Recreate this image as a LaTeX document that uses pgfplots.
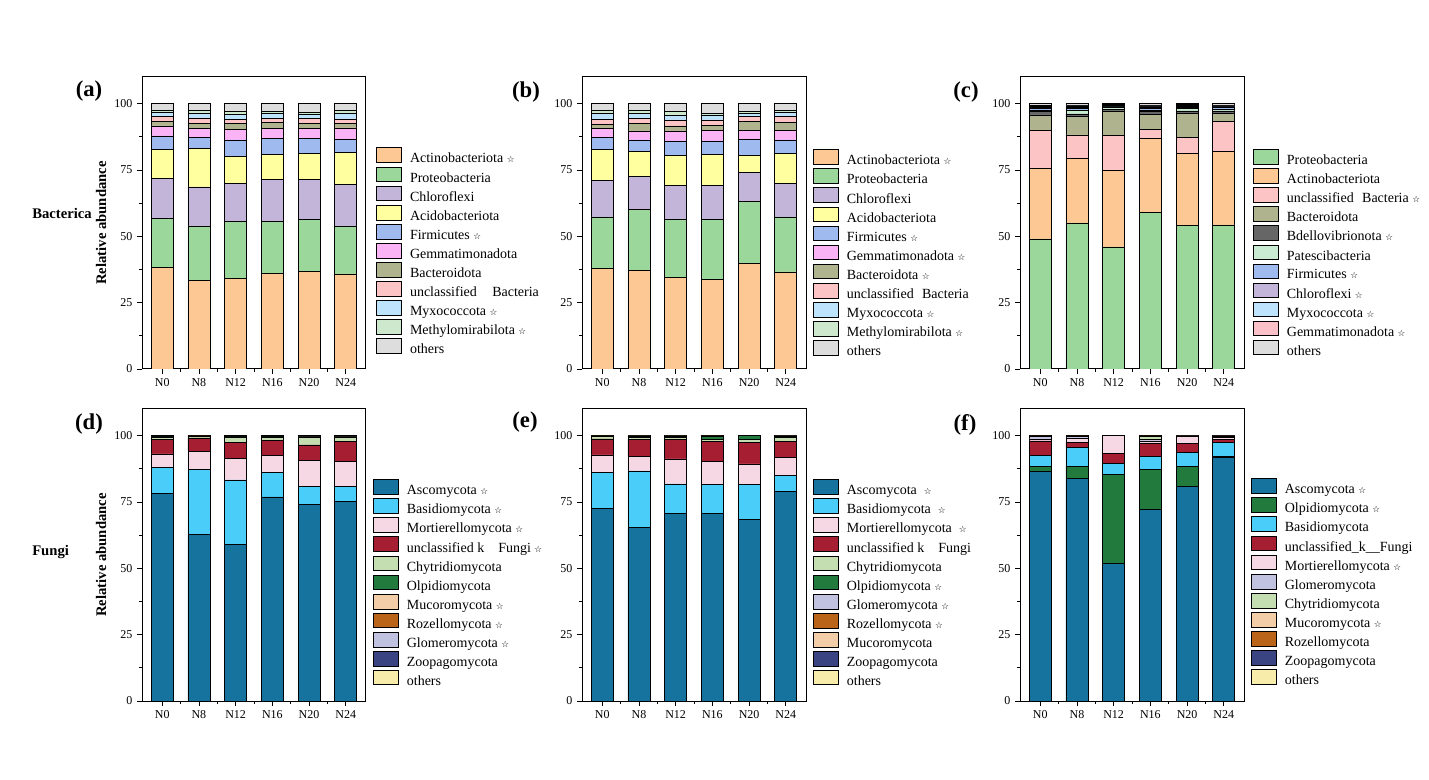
\documentclass[border=0pt]{standalone}
\usepackage{pgfplots}
\usepackage{pgfplotstable}
\pgfplotsset{compat=1.18}
\usepackage{fontspec}
\setmainfont{Liberation Serif}
\newfontfamily\symfont{DejaVu Sans}
\newcommand{\st}{\ {\symfont\fontsize{6.5}{6.5}\selectfont ☆}}

\definecolor{actino}{HTML}{FDC894}
\definecolor{proteo}{HTML}{9BD69B}
\definecolor{chloro}{HTML}{C3B4D9}
\definecolor{acido}{HTML}{FFFFA0}
\definecolor{firm}{HTML}{9EBAEE}
\definecolor{gemma}{HTML}{FAB4F5}
\definecolor{bactero}{HTML}{B0B48E}
\definecolor{uncb}{HTML}{FCC4C4}
\definecolor{myxo}{HTML}{BEE4FD}
\definecolor{methyl}{HTML}{CDE8CD}
\definecolor{othb}{HTML}{DDDDDD}
\definecolor{bdello}{HTML}{666666}
\definecolor{pates}{HTML}{C8EBD2}
\definecolor{gemmac}{HTML}{FCC0C8}
\definecolor{asco}{HTML}{15739E}
\definecolor{basid}{HTML}{4BCDFA}
\definecolor{mort}{HTML}{F6D8E4}
\definecolor{uncf}{HTML}{A51E32}
\definecolor{chytr}{HTML}{C4DEB2}
\definecolor{olpid}{HTML}{227A3C}
\definecolor{mucor}{HTML}{F2CDA8}
\definecolor{rozel}{HTML}{B96419}
\definecolor{glom}{HTML}{C1C1E0}
\definecolor{zoop}{HTML}{3A4482}
\definecolor{othf}{HTML}{F7ECAA}

\pgfplotstableread{
x s1 s2 s3 s4 s5 s6 s7 s8 s9 s10 s11
0 38.3 18.5 14.9 11.0 5.1 3.8 1.6 1.8 1.6 1.0 2.4
1 33.5 20.4 14.7 14.4 4.2 3.5 1.9 2.0 1.6 1.2 2.6
2 34.1 21.6 14.1 10.2 6.3 3.8 2.3 1.7 1.9 1.2 2.8
3 36.0 19.7 15.6 9.6 5.9 3.8 2.2 1.7 1.7 1.0 2.8
4 36.9 19.5 15.0 9.7 5.7 3.8 2.0 1.7 1.7 0.6 3.4
5 35.8 18.1 15.5 12.1 4.9 4.4 1.6 1.8 2.0 1.4 2.4
}\taba
\pgfplotstableread{
x s1 s2 s3 s4 s5 s6 s7 s8 s9 s10 s11
0 37.9 19.4 13.6 11.8 4.5 3.4 1.6 1.9 2.1 1.4 2.4
1 37.0 23.1 12.6 9.4 4.2 3.4 2.7 1.9 1.9 1.4 2.4
2 34.6 21.6 12.8 11.4 5.5 3.8 1.9 2.2 1.8 1.3 3.1
3 33.9 22.6 12.5 11.9 5.0 4.0 1.9 2.0 1.9 0.6 3.7
4 39.9 23.3 10.7 6.7 5.9 3.4 3.3 1.8 1.2 0.7 3.1
5 36.6 20.7 12.6 11.2 5.2 3.6 2.9 2.2 1.6 0.8 2.6
}\tabb
\pgfplotstableread{
x s1 s2 s3 s4 s5 s6 s7 s8 s9 s10 s11
0 49.0 26.7 14.1 5.9 1.2 0.5 0.7 0.5 0.4 0.4 0.6
1 55.0 24.2 9.0 6.9 1.0 1.3 0.8 0.4 0.5 0.4 0.5
2 46.0 28.7 13.2 9.3 0.5 0.8 0.2 0.3 0.4 0.2 0.4
3 58.9 27.9 3.4 5.6 1.1 0.7 0.5 0.6 0.4 0.4 0.5
4 54.0 27.1 6.1 9.0 1.0 0.9 0.5 0.4 0.4 0.2 0.4
5 54.3 27.6 11.3 3.0 1.0 0.7 0.5 0.3 0.4 0.4 0.5
}\tabc
\pgfplotstableread{
x s1 s2 s3 s4 s5 s6 s7 s8 s9 s10 s11
0 78.3 9.7 5.1 5.3 1.0 0.1 0.1 0.1 0.1 0.1 0.1
1 62.8 24.3 7.0 5.0 0.6 0.05 0.05 0.05 0.05 0.05 0.05
2 58.9 24.4 8.2 5.9 2.0 0.1 0.1 0.1 0.1 0.1 0.1
3 76.9 9.2 6.3 5.7 1.3 0.1 0.1 0.1 0.1 0.1 0.1
4 73.9 6.9 9.7 6.0 2.7 0.2 0.1 0.1 0.1 0.1 0.2
5 75.2 5.5 9.5 7.7 1.3 0.2 0.1 0.1 0.1 0.1 0.2
}\tabd
\pgfplotstableread{
x s1 s2 s3 s4 s5 s6 s7 s8 s9 s10 s11
0 72.4 13.6 6.7 6.0 0.9 0.1 0.1 0.05 0.05 0.05 0.05
1 65.3 21.4 5.4 6.3 1.0 0.2 0.1 0.1 0.05 0.05 0.1
2 70.6 11.2 9.4 7.2 1.0 0.2 0.1 0.1 0.05 0.05 0.1
3 70.6 10.9 8.9 7.5 0.5 1.3 0.1 0.05 0.05 0.05 0.05
4 68.3 13.2 7.8 8.1 1.0 1.5 0.02 0.02 0.02 0.02 0.02
5 78.8 6.3 6.8 6.0 1.5 0.2 0.1 0.1 0.05 0.05 0.1
}\tabe
\pgfplotstableread{
x s1 s2 s3 s4 s5 s6 s7 s8 s9 s10 s11
0 86.7 1.6 4.1 5.6 0.7 0.9 0.1 0.1 0.05 0.05 0.1
1 84.0 4.5 7.0 1.9 1.7 0.5 0.1 0.1 0.05 0.05 0.1
2 51.8 33.5 4.3 3.8 6.5 0.02 0.02 0.02 0.02 0.01 0.01
3 72.2 15.1 4.8 4.8 1.1 0.5 1.2 0.1 0.05 0.05 0.1
4 80.8 7.5 5.4 3.3 2.6 0.1 0.1 0.05 0.05 0.05 0.05
5 91.9 0.2 5.4 1.0 0.9 0.3 0.1 0.05 0.05 0.05 0.05
}\tabf

\pgfplotsset{
  panel/.style={
    ybar stacked, bar width=0.6,
    scale only axis, width=168pt, height=219pt,
    anchor=south west,
    xmin=-0.55, xmax=5.55, ymin=0, ymax=110,
    xtick={0,...,5}, xticklabels={N0,N8,N12,N16,N20,N24},
    ytick={0,25,50,75,100},
    minor x tick num=1, minor y tick num=1,
    tick align=outside, xtick pos=bottom, ytick pos=left,
    major tick length=3.75pt, minor tick length=2.25pt,
    axis line style={line width=0.75pt},
    every tick/.append style={black, line width=0.6pt},
    tick label style={font=\fontsize{9}{9}\selectfont},
    /pgf/number format/assume math mode=true,
    legend cell align=left,
    legend image code/.code={\draw[##1,draw=black,line width=0.5pt] (0pt,-2.5pt) rectangle (18.75pt,8.5pt);},
    legend style={draw=none, fill=none, anchor=west, inner sep=0pt,
      row sep=1.2pt, column sep=6pt, font=\fontsize{10.5}{10.5}\selectfont,
      nodes={inner sep=0pt}},
    every axis plot/.append style={draw=black, line width=0.5pt},
    ylabel style={at={(axis description cs:-0.183,0.5)}, anchor=center,
      font=\bfseries\fontsize{11}{11}\selectfont},
  }
}

\begin{document}
\begin{tikzpicture}
\path[use as bounding box] (0,0) rectangle (1071.75pt,584.25pt);

% (a)
\begin{axis}[panel, at={(106.5pt,307.5pt)}, ylabel={Relative abundance},
  legend style={at={(1.045,0.402)}}]
\addplot[fill=actino] table[x=x,y=s1]{\taba}; \addlegendentry{Actinobacteriota\st}
\addplot[fill=proteo] table[x=x,y=s2]{\taba}; \addlegendentry{Proteobacteria}
\addplot[fill=chloro] table[x=x,y=s3]{\taba}; \addlegendentry{Chloroflexi}
\addplot[fill=acido] table[x=x,y=s4]{\taba}; \addlegendentry{Acidobacteriota}
\addplot[fill=firm] table[x=x,y=s5]{\taba}; \addlegendentry{Firmicutes\st}
\addplot[fill=gemma] table[x=x,y=s6]{\taba}; \addlegendentry{Gemmatimonadota}
\addplot[fill=bactero] table[x=x,y=s7]{\taba}; \addlegendentry{Bacteroidota}
\addplot[fill=uncb] table[x=x,y=s8]{\taba}; \addlegendentry{unclassified\hspace{1.1em}Bacteria}
\addplot[fill=myxo] table[x=x,y=s9]{\taba}; \addlegendentry{Myxococcota\st}
\addplot[fill=methyl] table[x=x,y=s10]{\taba}; \addlegendentry{Methylomirabilota\st}
\addplot[fill=othb] table[x=x,y=s11]{\taba}; \addlegendentry{others}
\end{axis}

% (b)
\begin{axis}[panel, at={(436.5pt,307.5pt)},
  legend style={at={(1.031,0.396)}}]
\addplot[fill=actino] table[x=x,y=s1]{\tabb}; \addlegendentry{Actinobacteriota\st}
\addplot[fill=proteo] table[x=x,y=s2]{\tabb}; \addlegendentry{Proteobacteria}
\addplot[fill=chloro] table[x=x,y=s3]{\tabb}; \addlegendentry{Chloroflexi}
\addplot[fill=acido] table[x=x,y=s4]{\tabb}; \addlegendentry{Acidobacteriota}
\addplot[fill=firm] table[x=x,y=s5]{\tabb}; \addlegendentry{Firmicutes\st}
\addplot[fill=gemma] table[x=x,y=s6]{\tabb}; \addlegendentry{Gemmatimonadota\st}
\addplot[fill=bactero] table[x=x,y=s7]{\tabb}; \addlegendentry{Bacteroidota\st}
\addplot[fill=uncb] table[x=x,y=s8]{\tabb}; \addlegendentry{unclassified\hspace{0.6em}Bacteria}
\addplot[fill=myxo] table[x=x,y=s9]{\tabb}; \addlegendentry{Myxococcota\st}
\addplot[fill=methyl] table[x=x,y=s10]{\tabb}; \addlegendentry{Methylomirabilota\st}
\addplot[fill=othb] table[x=x,y=s11]{\tabb}; \addlegendentry{others}
\end{axis}

% (c)
\begin{axis}[panel, at={(765pt,307.5pt)},
  legend style={at={(1.040,0.397)}}]
\addplot[fill=proteo] table[x=x,y=s1]{\tabc}; \addlegendentry{Proteobacteria}
\addplot[fill=actino] table[x=x,y=s2]{\tabc}; \addlegendentry{Actinobacteriota}
\addplot[fill=uncb] table[x=x,y=s3]{\tabc}; \addlegendentry{unclassified\hspace{0.6em}Bacteria\st}
\addplot[fill=bactero] table[x=x,y=s4]{\tabc}; \addlegendentry{Bacteroidota}
\addplot[fill=bdello] table[x=x,y=s5]{\tabc}; \addlegendentry{Bdellovibrionota\st}
\addplot[fill=pates] table[x=x,y=s6]{\tabc}; \addlegendentry{Patescibacteria}
\addplot[fill=firm] table[x=x,y=s7]{\tabc}; \addlegendentry{Firmicutes\st}
\addplot[fill=chloro] table[x=x,y=s8]{\tabc}; \addlegendentry{Chloroflexi\st}
\addplot[fill=myxo] table[x=x,y=s9]{\tabc}; \addlegendentry{Myxococcota\st}
\addplot[fill=gemmac] table[x=x,y=s10]{\tabc}; \addlegendentry{Gemmatimonadota\st}
\addplot[fill=othb] table[x=x,y=s11]{\tabc}; \addlegendentry{others}
\end{axis}

% (d)
\begin{axis}[panel, at={(106.5pt,58.5pt)}, ylabel={Relative abundance},
  legend style={at={(1.031,0.403)}}]
\addplot[fill=asco] table[x=x,y=s1]{\tabd}; \addlegendentry{Ascomycota\st}
\addplot[fill=basid] table[x=x,y=s2]{\tabd}; \addlegendentry{Basidiomycota\st}
\addplot[fill=mort] table[x=x,y=s3]{\tabd}; \addlegendentry{Mortierellomycota\st}
\addplot[fill=uncf] table[x=x,y=s4]{\tabd}; \addlegendentry{unclassified\ k\hspace{1em}Fungi\st}
\addplot[fill=chytr] table[x=x,y=s5]{\tabd}; \addlegendentry{Chytridiomycota}
\addplot[fill=olpid] table[x=x,y=s6]{\tabd}; \addlegendentry{Olpidiomycota}
\addplot[fill=mucor] table[x=x,y=s7]{\tabd}; \addlegendentry{Mucoromycota\st}
\addplot[fill=rozel] table[x=x,y=s8]{\tabd}; \addlegendentry{Rozellomycota\st}
\addplot[fill=glom] table[x=x,y=s9]{\tabd}; \addlegendentry{Glomeromycota\st}
\addplot[fill=zoop] table[x=x,y=s10]{\tabd}; \addlegendentry{Zoopagomycota}
\addplot[fill=othf] table[x=x,y=s11]{\tabd}; \addlegendentry{others}
\end{axis}

% (e)
\begin{axis}[panel, at={(436.5pt,58.5pt)},
  legend style={at={(1.031,0.403)}}]
\addplot[fill=asco] table[x=x,y=s1]{\tabe}; \addlegendentry{Ascomycota\ \st}
\addplot[fill=basid] table[x=x,y=s2]{\tabe}; \addlegendentry{Basidiomycota\ \st}
\addplot[fill=mort] table[x=x,y=s3]{\tabe}; \addlegendentry{Mortierellomycota\ \st}
\addplot[fill=uncf] table[x=x,y=s4]{\tabe}; \addlegendentry{unclassified\ k\hspace{1em}Fungi}
\addplot[fill=chytr] table[x=x,y=s5]{\tabe}; \addlegendentry{Chytridiomycota}
\addplot[fill=olpid] table[x=x,y=s6]{\tabe}; \addlegendentry{Olpidiomycota\st}
\addplot[fill=glom] table[x=x,y=s7]{\tabe}; \addlegendentry{Glomeromycota\st}
\addplot[fill=rozel] table[x=x,y=s8]{\tabe}; \addlegendentry{Rozellomycota\st}
\addplot[fill=mucor] table[x=x,y=s9]{\tabe}; \addlegendentry{Mucoromycota}
\addplot[fill=zoop] table[x=x,y=s10]{\tabe}; \addlegendentry{Zoopagomycota}
\addplot[fill=othf] table[x=x,y=s11]{\tabe}; \addlegendentry{others}
\end{axis}

% (f)
\begin{axis}[panel, at={(765pt,58.5pt)},
  legend style={at={(1.031,0.406)}}]
\addplot[fill=asco] table[x=x,y=s1]{\tabf}; \addlegendentry{Ascomycota\st}
\addplot[fill=olpid] table[x=x,y=s2]{\tabf}; \addlegendentry{Olpidiomycota\st}
\addplot[fill=basid] table[x=x,y=s3]{\tabf}; \addlegendentry{Basidiomycota}
\addplot[fill=uncf] table[x=x,y=s4]{\tabf}; \addlegendentry{unclassified\_k\_\_Fungi}
\addplot[fill=mort] table[x=x,y=s5]{\tabf}; \addlegendentry{Mortierellomycota\st}
\addplot[fill=glom] table[x=x,y=s6]{\tabf}; \addlegendentry{Glomeromycota}
\addplot[fill=chytr] table[x=x,y=s7]{\tabf}; \addlegendentry{Chytridiomycota}
\addplot[fill=mucor] table[x=x,y=s8]{\tabf}; \addlegendentry{Mucoromycota\st}
\addplot[fill=rozel] table[x=x,y=s9]{\tabf}; \addlegendentry{Rozellomycota}
\addplot[fill=zoop] table[x=x,y=s10]{\tabf}; \addlegendentry{Zoopagomycota}
\addplot[fill=othf] table[x=x,y=s11]{\tabf}; \addlegendentry{others}
\end{axis}

% panel and row labels
\node[font=\bfseries\fontsize{17}{17}\selectfont] at (66.75pt,516pt) {(a)};
\node[font=\bfseries\fontsize{17}{17}\selectfont] at (394.5pt,515.25pt) {(b)};
\node[font=\bfseries\fontsize{17}{17}\selectfont] at (724.5pt,515.25pt) {(c)};
\node[font=\bfseries\fontsize{17}{17}\selectfont] at (66.75pt,266.25pt) {(d)};
\node[font=\bfseries\fontsize{17}{17}\selectfont] at (393.75pt,267.75pt) {(e)};
\node[font=\bfseries\fontsize{17}{17}\selectfont] at (723.75pt,265.5pt) {(f)};
\node[font=\bfseries\fontsize{11}{11}\selectfont, anchor=west, inner sep=0pt] at (24pt,424.5pt) {Bacterica};
\node[font=\bfseries\fontsize{11}{11}\selectfont, anchor=west, inner sep=0pt] at (24pt,170.25pt) {Fungi};
\end{tikzpicture}
\end{document}
